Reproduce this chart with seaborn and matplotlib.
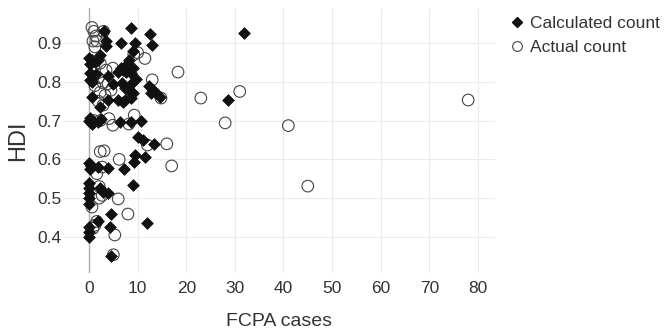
import matplotlib
matplotlib.use("Agg")
import matplotlib.pyplot as plt
import seaborn as sns
import pandas as pd
from matplotlib.lines import Line2D

# Calculated count (diamonds)
calc_x = [8.6, 12.6, 31.9, 28.6, 6.6, 9.5, 13.0, 9.0, 3.1, 3.5, 3.5,
          0.0, 0.6, 1.2, 0.2, 1.9, 2.3, 8.2, 7.8, 7.0, 6.6, 6.0, 7.6, 9.0, 8.6,
          1.4, 0.2, 0.2, 0.6, 3.9, 5.0, 6.8, 7.4, 8.4, 8.0, 9.7,
          12.3, 13.2, 13.8, 14.6, 12.8, 0.6, 3.9, 2.3, 6.0, 7.0, 7.4, 8.6, 9.0,
          0.2, 0.0, 0.6, 1.0, 1.9, 2.5, 6.4, 8.6, 10.7,
          10.0, 11.0, 13.4, 9.5, 11.5, 9.3, 0.0, 0.4, 0.2, 1.9, 3.9, 7.2,
          9.0, 0.0, 0.0, 0.0, 0.0, 0.0, 2.3, 2.9, 3.9,
          4.3, 1.9, 4.5, 0.0, 0.0, 0.0, 12.0, 4.5]
calc_y = [0.939, 0.923, 0.926, 0.753, 0.900, 0.900, 0.895, 0.880, 0.930, 0.905, 0.893,
          0.862, 0.855, 0.850, 0.845, 0.856, 0.868, 0.856, 0.845, 0.830, 0.835, 0.825, 0.825, 0.835, 0.822,
          0.820, 0.823, 0.805, 0.800, 0.815, 0.795, 0.797, 0.785, 0.792, 0.780, 0.808,
          0.790, 0.778, 0.770, 0.760, 0.770, 0.760, 0.753, 0.735, 0.753, 0.748, 0.753, 0.758, 0.770,
          0.707, 0.700, 0.690, 0.695, 0.695, 0.703, 0.696, 0.696, 0.700,
          0.658, 0.650, 0.640, 0.610, 0.607, 0.593, 0.590, 0.582, 0.575, 0.580, 0.578, 0.575,
          0.534, 0.540, 0.527, 0.514, 0.501, 0.484, 0.527, 0.517, 0.514,
          0.425, 0.440, 0.460, 0.425, 0.412, 0.400, 0.436, 0.350]

# Actual count (open circles)
act_x = [0.6, 1.0, 1.4, 0.8, 1.2, 3.0, 1.6, 10.0, 9.2, 11.5, 18.3, 13.0,
         31.0, 23.0, 14.8, 28.0, 41.0, 78.0, 45.0, 17.0, 16.0, 12.0,
         9.3, 8.2, 6.2, 6.0, 8.0, 5.3, 5.0, 0.6, 1.2, 0.8, 1.6,
         2.3, 3.1, 2.1, 2.7, 2.1, 1.6, 2.7,
         1.0, 2.3, 3.5, 4.9, 1.9, 2.9, 3.9, 1.2, 2.3, 3.3, 4.5, 1.9, 2.9, 1.0, 2.3, 4.1, 4.9]
act_y = [0.940, 0.930, 0.918, 0.905, 0.890, 0.930, 0.905, 0.875, 0.870, 0.860, 0.825, 0.805,
         0.775, 0.758, 0.758, 0.694, 0.687, 0.753, 0.531, 0.583, 0.640, 0.637,
         0.714, 0.691, 0.600, 0.498, 0.459, 0.405, 0.354, 0.477, 0.430, 0.422, 0.440,
         0.620, 0.622, 0.530, 0.507, 0.500, 0.563, 0.580,
         0.840, 0.848, 0.830, 0.835, 0.810, 0.797, 0.795, 0.790, 0.773, 0.765, 0.778, 0.750, 0.740, 0.700, 0.700, 0.705, 0.688]

labels = ["Calculated count", "Actual count"]
x_ticks = [0, 10, 20, 30, 40, 50, 60, 70, 80]
y_ticks = [0.4, 0.5, 0.6, 0.7, 0.8, 0.9]

sns.set_theme(style="whitegrid")
plt.rcParams['font.family'] = ['Liberation Sans', 'DejaVu Sans']

fig = plt.figure(figsize=(6.67, 3.36), dpi=100)
ax = fig.add_axes([0.0945, 0.1875, 0.6475, 0.7885])

df_c = pd.DataFrame({"x": calc_x, "y": calc_y})
df_a = pd.DataFrame({"x": act_x, "y": act_y})

sns.scatterplot(data=df_a, x="x", y="y", marker="o", s=70, facecolor="none",
                edgecolor="#444444", linewidth=0.8, ax=ax, zorder=3)
sns.scatterplot(data=df_c, x="x", y="y", marker="D", s=36, color="#111111",
                edgecolor="#111111", linewidth=0.5, ax=ax, zorder=4)

ax.axvline(0, color="#b0b0b0", lw=1.0, zorder=2)
ax.set_xlim(-5.35, 83.5)
ax.set_ylim(0.307, 0.99)
ax.set_xticks(x_ticks)
ax.set_yticks(y_ticks)
ax.grid(True, color="#ebebeb", lw=0.8)
for sp in ax.spines.values():
    sp.set_visible(False)
ax.tick_params(axis="both", length=0, labelsize=12.5, labelcolor="#333333")
ax.tick_params(axis="x", pad=6)
ax.tick_params(axis="y", pad=1)
ax.set_xlabel("FCPA cases", fontsize=14, color="#333333", labelpad=12)
ax.set_ylabel("HDI", fontsize=17, color="#333333", labelpad=6)

handles = [Line2D([], [], marker="D", ls="none", color="#111111", markersize=5),
           Line2D([], [], marker="o", ls="none", markerfacecolor="none",
                  markeredgecolor="#444444", markersize=7, markeredgewidth=0.8)]
fig.legend(handles, labels, loc="upper left", bbox_to_anchor=(0.738, 1.0),
           frameon=False, fontsize=12.5, handletextpad=0.25, labelspacing=0.5,
           handlelength=1.0, labelcolor="#333333")

fig.savefig("out.png", dpi=100)
